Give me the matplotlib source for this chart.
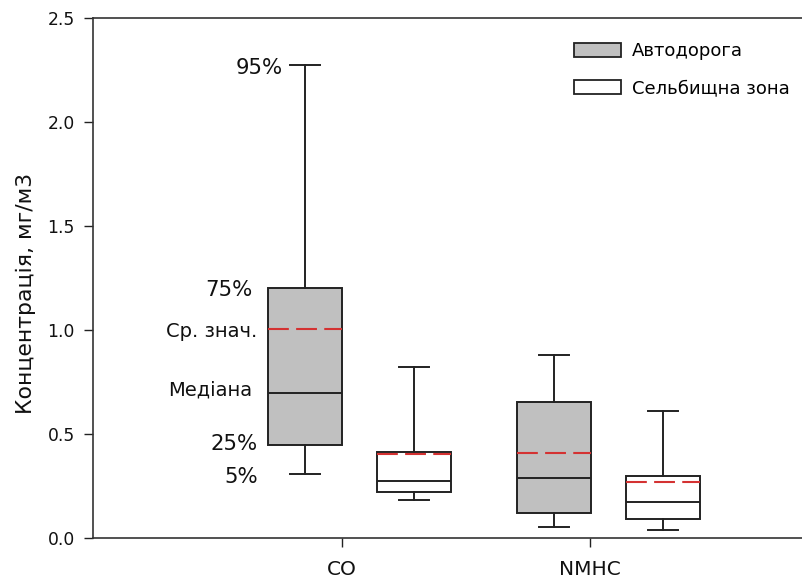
import matplotlib
matplotlib.use("Agg")
import matplotlib.pyplot as plt
from matplotlib.patches import Patch

# Box statistics per pollutant: 5%, 25%, median, mean, 75%, 95%
pollutants = ['CO', 'NMHC']
series = ['Автодорога', 'Сельбищна зона']
p05 = {'Автодорога': [0.308, 0.054], 'Сельбищна зона': [0.183, 0.038]}
q25 = {'Автодорога': [0.446, 0.122], 'Сельбищна зона': [0.223, 0.090]}
med = {'Автодорога': [0.696, 0.290], 'Сельбищна зона': [0.274, 0.172]}
avg = {'Автодорога': [1.006, 0.407], 'Сельбищна зона': [0.404, 0.269]}
q75 = {'Автодорога': [1.200, 0.652], 'Сельбищна зона': [0.415, 0.300]}
p95 = {'Автодорога': [2.274, 0.881], 'Сельбищна зона': [0.824, 0.611]}
fills = {'Автодорога': '#c0c0c0', 'Сельбищна зона': 'white'}
offsets = {'Автодорога': -0.147, 'Сельбищна зона': 0.291}

fig = plt.figure(figsize=(8.02, 5.77), dpi=100)
ax = fig.add_axes([93 / 802, 39 / 577, 746 / 802, 520 / 577])

edge = '#222222'
box_w = 0.297
for s in series:
    stats = []
    for i, p in enumerate(pollutants):
        stats.append(dict(whislo=p05[s][i], q1=q25[s][i], med=med[s][i],
                          mean=avg[s][i], q3=q75[s][i], whishi=p95[s][i],
                          fliers=[], label=p))
    pos = [i + 1 + offsets[s] for i in range(len(pollutants))]
    ax.bxp(stats, positions=pos, widths=box_w, capwidths=0.12,
           showmeans=True, meanline=True, showfliers=False, patch_artist=True,
           boxprops=dict(facecolor=fills[s], edgecolor=edge, linewidth=1.4),
           medianprops=dict(color=edge, linewidth=1.4),
           whiskerprops=dict(color=edge, linewidth=1.4),
           capprops=dict(color=edge, linewidth=1.4),
           meanprops=dict(color='#d43232', linewidth=1.5, linestyle=(0, (10, 3.5))))

# explanatory labels beside the first box (x, offset in points)
i = 0
s = 'Автодорога'
label_specs = [
    ('95%', 0.763, p95[s][i], -2, 15.3),
    ('75%', 0.643, q75[s][i], -1, 15.3),
    ('Ср. знач.', 0.659, avg[s][i], -2, 14),
    ('Медіана', 0.639, med[s][i], 2, 14),
    ('25%', 0.663, q25[s][i], 1, 15.3),
    ('5%', 0.663, p05[s][i], -2, 15.3),
]
for txt, x, y, dy, fs in label_specs:
    ax.annotate(txt, xy=(x, y), xytext=(0, dy), textcoords='offset points',
                ha='right', va='center', fontsize=fs, color='#111111')

ax.set_xlim(0, 3)
ax.set_ylim(0, 2.5)
ax.set_xticks([1, 2])
ax.set_xticklabels(pollutants)
ax.set_yticks([0, 0.5, 1.0, 1.5, 2.0, 2.5])
ax.set_yticklabels(['0.0', '0.5', '1.0', '1.5', '2.0', '2.5'])
ax.tick_params(direction='out', length=6.5, width=1, colors='#222222')
ax.tick_params(axis='y', labelsize=12.3, pad=6.5, labelcolor='#111111')
ax.tick_params(axis='x', labelsize=14.5, pad=9, labelcolor='#111111')
fig.text(26 / 802, 1 - 293 / 577, 'Концентрація, мг/м3', rotation=90,
         ha='center', va='center', fontsize=15.8, color='#111111')
for side in ['left', 'bottom', 'top']:
    ax.spines[side].set_color('#333333')
    ax.spines[side].set_linewidth(1.2)
ax.spines['right'].set_visible(False)

handles = [Patch(facecolor=fills[s], edgecolor=edge, linewidth=1.3) for s in series]
ax.legend(handles, series, loc='upper left', bbox_to_anchor=(574 / 802, 1 - 42 / 577),
          bbox_transform=fig.transFigure, frameon=False, fontsize=13,
          borderpad=0, borderaxespad=0,
          handlelength=2.6, handleheight=0.83, handletextpad=0.6, labelspacing=1.05)

fig.savefig('out.png', dpi=100)
